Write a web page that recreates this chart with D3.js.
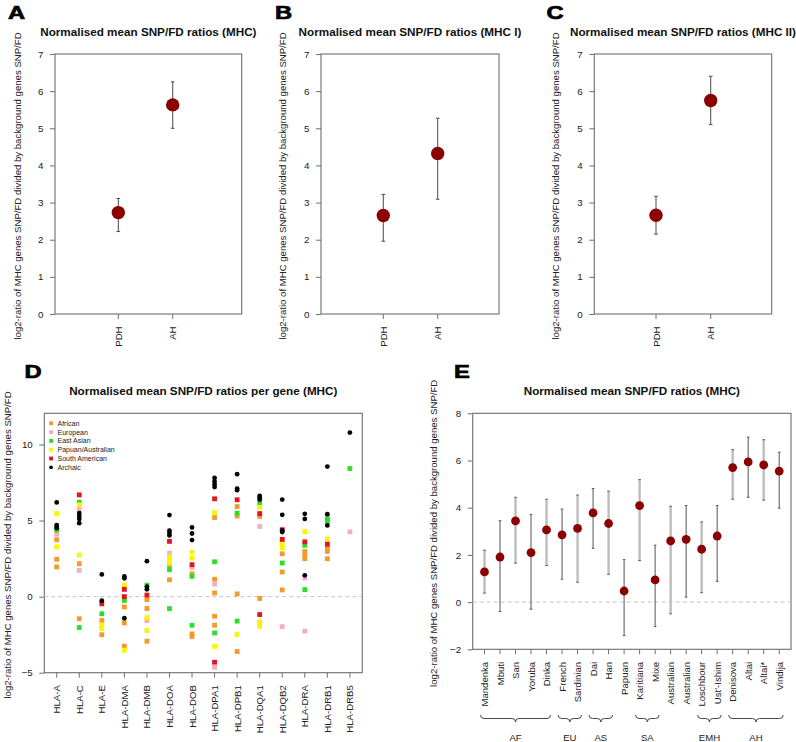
<!DOCTYPE html>
<html><head><meta charset="utf-8">
<script src="https://cdn.jsdelivr.net/npm/d3@7"></script>
<style>body{margin:0;background:#fff} svg{display:block} text{font-family:"Liberation Sans",Arial,Helvetica,sans-serif}</style>
</head><body><svg id="c" width="796" height="742"></svg>
<script>
// ---------------- DATA ----------------
const abcCategories = ["PDH", "AH"];
const abcTicks = [0, 1, 2, 3, 4, 5, 6, 7];
const aMean = [2.73, 5.63], aLow = [2.22, 5.0], aHigh = [3.11, 6.25];
const bMean = [2.65, 4.32], bLow = [1.96, 3.09], bHigh = [3.22, 5.27];
const cMean = [2.66, 5.75], cLow = [2.15, 5.1], cHigh = [3.17, 6.4];

const genes = ["HLA-A","HLA-C","HLA-E","HLA-DMA","HLA-DMB","HLA-DOA","HLA-DOB","HLA-DPA1","HLA-DPB1","HLA-DQA1","HLA-DQB2","HLA-DRA","HLA-DRB1","HLA-DRB5"];
const dTicks = [-5, 0, 5, 10];
const dGroups = ["African","European","East Asian","Papuan/Australian","South American","Archaic"];
const dAfrican = [[3.74,2.45,1.95],[2.17,-1.45],[-1.57,-2.5],[-0.68,-1.73,-3.25],[-0.2,-0.78,-2.93],[2.05,1.11],[1.5,-2.45,-2.62],[5.2,1.14,0.24,-1.29,-1.88],[5.92,5.3,0.18,-3.61],[5.27,-0.12],[2.82,1.62,0.44],[2.97,2.73,2.5],[3.19,2.97,2.49],[]];
const dEuropean = [[4.1],[5.75,1.72],[],[],[-1.58],[2.86],[1.92],[0.83,-4.64],[],[4.61],[-1.97],[1.22,-2.27],[5.27],[4.26]];
const dEastAsian = [[4.38],[6.2,-2.03],[-1.13],[-0.25],[0.75],[1.77,-0.79],[1.33,-1.88],[2.29,-2.39],[5.49,-1.61],[6.16],[2.21],[3.37,0.46],[5.11,4.94],[8.42]];
const dPapuanAustralian = [[5.46,3.27],[6.03,2.73],[-1.85,-2.1],[0.75,-3.52],[-1.38,-2.23],[2.64,2.4,2.2],[2.93,2.54],[5.53,-3.27],[-2.49],[5.87,-1.66,-1.95],[3.45,3.2],[4.28],[3.78],[]];
const dSouthAmerican = [[],[6.69],[-0.47],[0.48,0.0],[0.1],[3.63],[2.1],[6.43,-4.31],[6.37],[5.46,-1.18],[4.4,3.76],[3.6],[3.45],[]];
const dArchaic = [[6.19,4.7,4.6,4.5],[5.49,5.31,5.11,4.83],[1.46,-0.27],[1.33,1.2,-1.42],[2.33,0.65,0.48],[5.36,4.33,4.18,4.02],[4.55,4.15,3.72],[7.8,7.56,7.38,7.2],[8.05,7.1,7.0],[6.62,6.5,6.38],[6.38,5.38,4.35,4.24],[5.44,5.11,1.4],[8.55,5.42,4.68],[10.78]];

const ePops = ["Mandenka","Mbuti","San","Yoruba","Dinka","French","Sardinian","Dai","Han","Papuan","Karitiana","Mixe","Australian","Australian","Loschbour","Ust'-Ishim","Denisova","Altai","Altai*","Vindija"];
const eMean = [1.28,1.91,3.44,2.10,3.06,2.85,3.12,3.78,3.33,0.47,4.09,0.94,2.59,2.66,2.24,2.80,5.70,5.94,5.81,5.55];
const eLow  = [0.38,-0.40,1.65,-0.30,1.55,0.97,0.84,2.28,1.18,-1.42,1.76,-1.04,-0.50,0.21,0.40,0.88,4.36,4.44,4.32,3.98];
const eHigh = [2.20,3.45,4.44,3.71,4.36,3.94,4.54,4.81,4.70,1.80,5.19,2.41,4.06,4.09,3.40,4.09,6.46,6.99,6.88,6.35];
const eTicks = [-2, 0, 2, 4, 6, 8];
const eRegions = ["AF","EU","AS","SA","EMH","AH"];
const eRegionStart = [0,5,7,10,14,16];
const eRegionEnd = [4,6,8,11,15,19];

// ---------------- STYLE / LAYOUT ----------------
const FRAME = "#6e6e6e", TXT = "#222", PT = "#8b0000";
const dColors = ["#f39a2c","#f6adc0","#27e027","#f8f500","#e3141c","#000000"];
const yLabelText = "log2-ratio of MHC genes SNP/FD divided by background genes SNP/FD";
const svg = d3.select("#c");

function frame(box, xDom, yDom, yTicks) {
  const x = d3.scaleLinear().domain(xDom).range([box.l, box.r]);
  const y = d3.scaleLinear().domain(yDom).range([box.b, box.t]);
  const g = svg.append("g");
  g.append("rect").attr("x", box.l).attr("y", box.t).attr("width", box.r - box.l).attr("height", box.b - box.t)
    .attr("fill", "none").attr("stroke", FRAME).attr("stroke-width", 1.1);
  const ax = g.append("g").attr("transform", `translate(${box.l},0)`)
    .call(d3.axisLeft(y).tickValues(yTicks).tickSize(5).tickPadding(6.5).tickFormat(d3.format("d")));
  ax.select(".domain").remove();
  ax.selectAll("line").attr("stroke", FRAME);
  ax.selectAll("text").attr("fill", TXT).style("font-size", "9.8px").style("font-family", '"Liberation Sans",Arial,sans-serif');
  return {x, y, g};
}
function xLabels(g, box, x, positions, labels) {
  g.selectAll(null).data(positions).join("line")
    .attr("x1", d => x(d)).attr("x2", d => x(d)).attr("y1", box.b).attr("y2", box.b + 5)
    .attr("stroke", FRAME);
  g.selectAll(null).data(positions).join("text")
    .attr("transform", d => `translate(${x(d)},${box.b + 12.5}) rotate(-90)`)
    .attr("text-anchor", "end").attr("dominant-baseline", "central")
    .attr("fill", TXT).style("font-size", "9.6px")
    .text((d, i) => labels[i]);
}
function titles(box, letter, lx, title, ylx) {
  svg.append("text").attr("transform", `translate(${lx},${box.t - 35.5}) scale(1.25,1)`)
    .attr("font-weight", "bold").style("font-size", "19px")
    .attr("stroke", "#000").attr("stroke-width", 0.7).text(letter);
  svg.append("text").attr("x", (box.l + box.r) / 2).attr("y", box.t - 18.5).attr("text-anchor", "middle")
    .attr("font-weight", "bold").style("font-size", "11.7px").attr("fill", "#111").text(title);
  svg.append("text").attr("transform", `translate(${ylx},${(box.t + box.b) / 2 + 2}) rotate(-90)`)
    .attr("text-anchor", "middle").attr("dominant-baseline", "central").style("font-size", "9.6px").attr("fill", TXT)
    .text(yLabelText);
}

// ---------------- PANELS A, B, C ----------------
const abcPanels = [
  {box: {l: 55, r: 241.7, t: 54, b: 314}, xDom: [-0.164, 3.268], letter: "A", lx: 8, title: "Normalised mean SNP/FD ratios (MHC)", ylx: 17, mean: aMean, low: aLow, high: aHigh},
  {box: {l: 321, r: 499, t: 54, b: 314}, xDom: [-0.145, 3.127], letter: "B", lx: 275, title: "Normalised mean SNP/FD ratios (MHC I)", ylx: 282, mean: bMean, low: bLow, high: bHigh},
  {box: {l: 594.3, r: 771.7, t: 54, b: 314}, xDom: [-0.128, 3.115], letter: "C", lx: 546.5, title: "Normalised mean SNP/FD ratios (MHC II)", ylx: 555, mean: cMean, low: cLow, high: cHigh}
];
abcPanels.forEach(p => {
  const {x, y, g} = frame(p.box, p.xDom, [0, 7], abcTicks);
  const pos = abcCategories.map((c, i) => i + 1);
  xLabels(g, p.box, x, pos, abcCategories);
  titles(p.box, p.letter, p.lx, p.title, p.ylx);
  const eb = g.append("g").attr("stroke", "#4a4a4a").attr("stroke-width", 1);
  eb.selectAll(null).data(pos).join("line").attr("x1", d => x(d)).attr("x2", d => x(d))
    .attr("y1", (d, i) => y(p.low[i])).attr("y2", (d, i) => y(p.high[i]));
  eb.selectAll(null).data(pos.flatMap((d, i) => [[d, p.low[i]], [d, p.high[i]]])).join("line")
    .attr("x1", d => x(d[0]) - 1.8).attr("x2", d => x(d[0]) + 1.8).attr("y1", d => y(d[1])).attr("y2", d => y(d[1]));
  g.selectAll(null).data(pos).join("circle").attr("cx", d => x(d)).attr("cy", (d, i) => y(p.mean[i]))
    .attr("r", 6.7).attr("fill", PT);
});

// ---------------- PANEL D ----------------
{
  const box = {l: 44.3, r: 362.3, t: 413.3, b: 672.7};
  const {x, y, g} = frame(box, [0.45, genes.length + 0.55], [-5, 12.05], dTicks);
  const pos = genes.map((c, i) => i + 1);
  xLabels(g, box, x, pos, genes);
  titles(box, "D", 24.5, "Normalised mean SNP/FD ratios per gene (MHC)", 7.5);
  g.append("line").attr("x1", box.l).attr("x2", box.r).attr("y1", y(0)).attr("y2", y(0))
    .attr("stroke", "#c4c4c4").attr("stroke-dasharray", "4,3");
  const series = [dAfrican, dEuropean, dEastAsian, dPapuanAustralian, dSouthAmerican, dArchaic];
  series.forEach((s, k) => {
    const pts = s.flatMap((vals, gi) => vals.map(v => [gi + 1, v]));
    if (k < 5) {
      g.selectAll(null).data(pts).join("rect")
        .attr("x", d => x(d[0]) - 2.4).attr("y", d => y(d[1]) - 2.4).attr("width", 4.8).attr("height", 4.8)
        .attr("fill", dColors[k]);
    } else {
      g.selectAll(null).data(pts).join("circle")
        .attr("cx", d => x(d[0])).attr("cy", d => y(d[1])).attr("r", 2.4).attr("fill", dColors[k]);
    }
  });
  const lg = g.append("g");
  dGroups.forEach((name, k) => {
    const ly = 423.3 + k * 8.8;
    if (k < 5) lg.append("rect").attr("x", 49.2).attr("y", ly - 1.9).attr("width", 3.8).attr("height", 3.8).attr("fill", dColors[k]);
    else lg.append("circle").attr("cx", 51.1).attr("cy", ly).attr("r", 1.9).attr("fill", dColors[k]);
    lg.append("text").attr("x", 57.5).attr("y", ly).attr("dominant-baseline", "central")
      .style("font-size", "7px").attr("fill", TXT).text(name);
  });
}

// ---------------- PANEL E ----------------
{
  const box = {l: 472.7, r: 791, t: 413.3, b: 649.3};
  const n = ePops.length;
  const {x, y, g} = frame(box, [0.24, n + 0.76], [-2, 8], eTicks);
  const pos = ePops.map((c, i) => i + 1);
  xLabels(g, box, x, pos, ePops);
  titles(box, "E", 454, "Normalised mean SNP/FD ratios (MHC)", 433);
  g.append("line").attr("x1", box.l).attr("x2", box.r).attr("y1", y(0)).attr("y2", y(0))
    .attr("stroke", "#c4c4c4").attr("stroke-dasharray", "4,3");
  g.selectAll(null).data(pos).join("line").attr("x1", d => x(d)).attr("x2", d => x(d))
    .attr("y1", (d, i) => y(eLow[i])).attr("y2", (d, i) => y(eHigh[i]))
    .attr("stroke", (d, i) => i % 2 === 0 ? "#bdbdbd" : "#555")
    .attr("stroke-width", (d, i) => i % 2 === 0 ? 2.4 : 1);
  g.selectAll(null).data(pos.flatMap((d, i) => [[d, eLow[i]], [d, eHigh[i]]])).join("line")
    .attr("x1", d => x(d[0]) - 1.3).attr("x2", d => x(d[0]) + 1.3).attr("y1", d => y(d[1])).attr("y2", d => y(d[1]))
    .attr("stroke", "#555").attr("stroke-width", 1);
  g.selectAll(null).data(pos).join("circle").attr("cx", d => x(d)).attr("cy", (d, i) => y(eMean[i]))
    .attr("r", 4.4).attr("fill", PT);
  // braces
  const by = 715, bh = 7;
  eRegions.forEach((name, k) => {
    const x1 = x(eRegionStart[k] + 1) - 4, x2 = x(eRegionEnd[k] + 1) + 4, mid = (x1 + x2) / 2, r = bh / 2;
    const path = `M${x1},${by} Q${x1},${by + r} ${x1 + r},${by + r} L${mid - r},${by + r} Q${mid},${by + r} ${mid},${by + bh} Q${mid},${by + r} ${mid + r},${by + r} L${x2 - r},${by + r} Q${x2},${by + r} ${x2},${by}`;
    g.append("path").attr("d", path).attr("fill", "none").attr("stroke", "#333").attr("stroke-width", 0.9);
    g.append("text").attr("x", mid).attr("y", 740.5).attr("text-anchor", "middle")
      .style("font-size", "9.6px").attr("fill", TXT).text(name);
  });
}
</script></body></html>
